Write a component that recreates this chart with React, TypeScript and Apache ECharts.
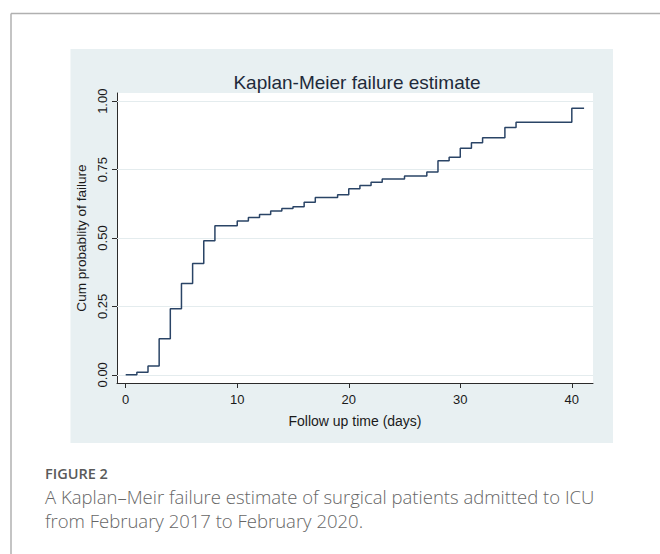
import React, { useEffect, useRef } from "react";
import * as echarts from "echarts";

const chartTitle = "Kaplan-Meier failure estimate";
const xAxisTitle = "Follow up time (days)";
const yAxisTitle = "Cum probablity of failure";
const captionLabel = "FIGURE 2";
const captionLines = [
  "A Kaplan\u2013Meir failure estimate of surgical patients admitted to ICU",
  "from February 2017 to February 2020.",
];

const days = [0, 1, 2, 3, 4, 5, 6, 7, 8, 10, 11, 12, 13, 14, 15, 16, 17, 19, 20, 21, 22, 23, 25, 27, 28, 29, 30, 31, 32, 34, 35, 40, 41.1];
const failure = [0, 0.009, 0.032, 0.132, 0.241, 0.334, 0.407, 0.49, 0.545, 0.562, 0.575, 0.586, 0.599, 0.608, 0.614, 0.631, 0.648, 0.658, 0.68, 0.692, 0.704, 0.716, 0.727, 0.741, 0.782, 0.795, 0.828, 0.848, 0.866, 0.904, 0.923, 0.974, 0.974];

const xTicks = [0, 10, 20, 30, 40];
const yTicks = [0, 0.25, 0.5, 0.75, 1];

export default function App() {
  const ref = useRef<HTMLDivElement>(null);
  useEffect(() => {
    if (!ref.current) return;
    const chart = echarts.init(ref.current, null, { renderer: "svg" });
    const axisColor = "#2b2b2b";
    const font = "Arial, 'Liberation Sans', Helvetica, sans-serif";
    chart.setOption({
      animation: false,
      backgroundColor: "#ffffff",
      title: {
        text: chartTitle,
        left: 352,
        top: 68,
        textAlign: "center",
        textStyle: { fontFamily: font, fontSize: 19, fontWeight: "normal", color: "#1e2a3a" },
      },
      graphic: [
        { type: "rect", z: -10, shape: { x: 70.5, y: 49, width: 542.5, height: 394 }, style: { fill: "#e8f0f2" } },
        { type: "rect", z: -9, shape: { x: 117, y: 93, width: 476, height: 290 }, style: { fill: "#ffffff" } },
        { type: "line", shape: { x1: 11, y1: 13.5, x2: 660, y2: 13.5 }, style: { stroke: "#b0b0b0", lineWidth: 1.5 } },
        { type: "line", shape: { x1: 11, y1: 13.5, x2: 11, y2: 554 }, style: { stroke: "#b0b0b0", lineWidth: 1.5 } },
        {
          type: "text",
          x: 45,
          y: 473,
          style: { text: captionLabel, fill: "#5a5a5a", fontFamily: "'Open Sans', sans-serif", fontSize: 14.5, fontWeight: 600, verticalAlign: "middle" },
        },
        {
          type: "text",
          x: 45,
          y: 496,
          style: { text: captionLines[0], fill: "#666666", fontFamily: "'Open Sans', sans-serif", fontSize: 18.5, fontWeight: 300, verticalAlign: "middle" },
        },
        {
          type: "text",
          x: 45,
          y: 520,
          style: { text: captionLines[1], fill: "#666666", fontFamily: "'Open Sans', sans-serif", fontSize: 18.5, fontWeight: 300, verticalAlign: "middle" },
        },
      ],
      grid: { left: 117, right: 67, top: 93, bottom: 171, containLabel: false },
      xAxis: {
        type: "value",
        min: -0.78,
        max: 41.9,
        name: xAxisTitle,
        nameLocation: "middle",
        nameGap: 31,
        nameTextStyle: { fontFamily: font, fontSize: 14, color: "#1a1a1a" },
        axisLine: { show: true, onZero: false, lineStyle: { color: axisColor, width: 1 } },
        axisTick: { show: true, length: 5, customValues: xTicks, lineStyle: { color: axisColor } },
        axisLabel: { customValues: xTicks, margin: 10, fontFamily: font, fontSize: 13, color: "#1a1a1a" },
        splitLine: { show: false },
      },
      yAxis: {
        type: "value",
        min: -0.03,
        max: 1.03,
        name: yAxisTitle,
        nameLocation: "middle",
        nameGap: 28,
        nameTextStyle: { fontFamily: font, fontSize: 13.6, color: "#1a1a1a" },
        axisLine: { show: true, onZero: false, lineStyle: { color: axisColor, width: 1 } },
        axisTick: { show: true, length: 5, customValues: yTicks, lineStyle: { color: axisColor } },
        axisLabel: {
          customValues: yTicks,
          rotate: 90,
          margin: 8,
          fontFamily: font,
          fontSize: 13,
          color: "#1a1a1a",
          formatter: (v: number) => v.toFixed(2),
        },
        splitLine: { show: false },
      },
      series: [
        {
          type: "line",
          step: "end",
          showSymbol: false,
          symbol: "none",
          data: days.map((d, i) => [d, failure[i]]),
          lineStyle: { color: "#2a4466", width: 1.5 },
          markLine: {
            silent: true,
            symbol: "none",
            label: { show: false },
            lineStyle: { color: "#e4ecee", width: 1, type: "solid" },
            data: yTicks.map((v) => ({ yAxis: v })),
            z: 1,
          },
          z: 3,
        },
      ],
    });
    return () => chart.dispose();
  }, []);
  return (
    <div
      ref={ref}
      style={{ position: "fixed", left: 0, top: 0, width: 660, height: 554 }}
    />
  );
}
